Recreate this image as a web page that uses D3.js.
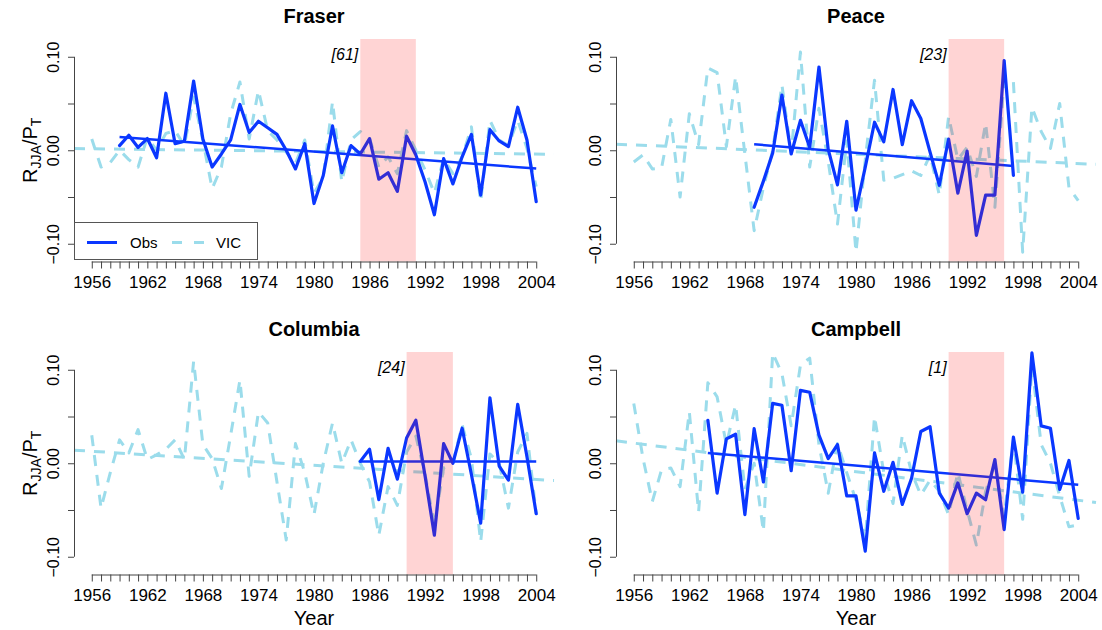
<!DOCTYPE html>
<html><head><meta charset="utf-8">
<script src="https://cdn.jsdelivr.net/npm/d3@7"></script>
<style>
body{margin:0;background:#fff}
svg{display:block}
text{font-family:"Liberation Sans",Arial,Helvetica,sans-serif;fill:#000}
</style>
</head><body>
<svg id="c" width="1102" height="630"></svg>
<script>
// ---------------- data ----------------
const xDomain = [1954.08, 2005.92];
const yDomain = [-0.119, 0.119];
const tickYears = d3.range(1956, 2005);
const labelYears = [1956, 1962, 1968, 1974, 1980, 1986, 1992, 1998, 2004];
const yTicks = [-0.10, -0.05, 0.00, 0.05, 0.10];
const yTickLabels = ["\u22120.10", "", "0.00", "", "0.10"];

const panelNames = ["Fraser", "Peace", "Columbia", "Campbell"];
const bandLabels = ["[61]", "[23]", "[24]", "[1]"];
const bandStart = [1985, 1990, 1990, 1990];
const bandEnd = [1991, 1996, 1995, 1996];
const obsStart = [1959, 1969, 1985, 1964];
const vicStart = [1956, 1956, 1956, 1956];
const seriesNames = ["Obs", "VIC"];

const fraserObs = [0.005, 0.016, 0.003, 0.0125, -0.008, 0.061, 0.007, 0.0096, 0.074, 0.012,
  -0.018, -0.004, 0.011, 0.049, 0.019, 0.031, 0.024, 0.017, 0.000, -0.020,
  0.007, -0.057, -0.027, 0.026, -0.024, 0.005, -0.004, 0.0125, -0.031, -0.024,
  -0.044, 0.015, -0.005, -0.034, -0.069, -0.009, -0.036, -0.007, 0.017, -0.048,
  0.022, 0.010, 0.004, 0.046, 0.011, -0.055];
const fraserVic = [0.012, -0.018, -0.013, 0.000, -0.010, -0.018, 0.014, 0.000, 0.018, 0.021,
  0.005, 0.057, 0.010, -0.041, -0.018, 0.039, 0.073, 0.012, 0.064, 0.021,
  0.011, -0.002, -0.014, 0.011, -0.046, -0.029, 0.052, -0.034, 0.011, 0.020,
  0.0125, -0.018, -0.007, -0.025, 0.021, 0.000, -0.021, -0.046, -0.009, -0.025,
  -0.007, 0.025, -0.055, 0.032, 0.011, 0.005, 0.032, 0.002, -0.039];

const peaceObs = [-0.061, -0.033, -0.003, 0.059, -0.004, 0.032, 0.003, 0.089, 0.001, -0.037,
  0.031, -0.064, -0.018, 0.030, 0.009, 0.065, 0.006, 0.053, 0.034, -0.002,
  -0.0375, 0.012, -0.046, -0.001, -0.091, -0.048, -0.048, 0.096, -0.027];
const peaceVic = [-0.0125, -0.005, -0.020, -0.019, 0.033, -0.050, 0.039, 0.006, 0.088, 0.083,
  0.004, 0.079, -0.004, -0.086, -0.040, 0.000, 0.070, -0.003, 0.105, -0.018,
  0.045, -0.012, -0.079, 0.010, -0.109, -0.010, 0.075, -0.032, -0.030, -0.026,
  -0.022, -0.027, -0.005, -0.048, 0.036, -0.010, 0.003, -0.028, 0.029, -0.061,
  0.077, 0.073, -0.109, 0.046, 0.020, 0.002, 0.050, -0.040, -0.054];

const columbiaObs = [0.002, 0.015, -0.039, 0.016, -0.017, 0.027, 0.046, -0.014, -0.077, 0.021,
  0.000, 0.0375, -0.012, -0.064, 0.070, -0.003, -0.018, 0.063, 0.007, -0.054];
const columbiaVic = [0.030, -0.048, -0.010, 0.025, 0.011, 0.036, 0.004, 0.009, 0.015, 0.025,
  0.004, 0.109, 0.020, 0.005, -0.027, 0.030, 0.089, -0.014, 0.055, 0.043,
  -0.020, -0.082, 0.021, -0.010, -0.055, 0.000, 0.043, 0.000, 0.025, 0.000,
  -0.020, -0.077, -0.025, -0.045, 0.012, 0.029, -0.012, -0.066, -0.005, 0.000,
  0.041, 0.005, -0.084, 0.010, 0.000, -0.048, 0.012, 0.032, -0.054];

const campbellObs = [0.046, -0.032, 0.026, 0.031, -0.055, 0.037, -0.020, 0.064, 0.062, -0.008,
  0.078, 0.076, 0.030, 0.005, 0.020, -0.035, -0.035, -0.094, 0.011, -0.030,
  0.001, -0.044, -0.016, 0.034, 0.039, -0.032, -0.048, -0.021, -0.054, -0.032,
  -0.039, 0.004, -0.071, 0.028, -0.031, 0.118, 0.040, 0.0375, -0.028, 0.003, -0.059];
const campbellVic = [0.064, 0.005, -0.041, -0.007, -0.005, -0.025, 0.055, -0.052, 0.086, 0.071,
  0.020, 0.0625, -0.028, 0.000, -0.073, 0.118, 0.096, 0.040, 0.105, 0.1125,
  0.020, -0.032, 0.021, -0.010, -0.040, -0.082, 0.050, -0.010, -0.043, 0.030,
  -0.010, -0.034, -0.018, -0.030, -0.055, -0.010, -0.050, -0.0875, -0.030, 0.000,
  -0.057, 0.025, -0.060, 0.104, 0.020, 0.000, -0.035, -0.068, -0.066];

// trend lines: Obs over its own years, VIC across the whole x range
const obsTrendYears = [[1959, 2004], [1969, 1997], [1985, 2004], [1964, 2004]];
const obsTrendValues = [[0.0143, -0.0196], [0.0064, -0.0168], [0.0018, 0.0018], [0.011, -0.023]];
const vicTrendValues = [[0.0018, -0.0043], [0.0065, -0.0150], [0.014, -0.0185], [0.024, -0.042]];

const obsSeries = [fraserObs, peaceObs, columbiaObs, campbellObs];
const vicSeries = [fraserVic, peaceVic, columbiaVic, campbellVic];

// ---------------- layout & style ----------------
const OBS_COL = "#0a37ff";
const VIC_COL = "#9bdceb";
const AXIS_COL = "#444";
const lefts = [74, 616, 74, 616];
const tops = [39, 39, 352, 352];
const PW = 480, PH = 222.5;

const svg = d3.select("#c");

function drawPanel(i) {
  const left = lefts[i], top = tops[i], bottom = top + PH;
  const x = d3.scaleLinear().domain(xDomain).range([left, left + PW]);
  const y = d3.scaleLinear().domain(yDomain).range([bottom, top]);
  const g = svg.append("g");

  const line = d3.line().x(d => x(d[0])).y(d => y(d[1]));
  const vic = vicSeries[i].map((v, k) => [vicStart[i] + k, v]);
  const obs = obsSeries[i].map((v, k) => [obsStart[i] + k, v]);

  // VIC series
  g.append("path").datum(vic).attr("d", line)
    .attr("fill", "none").attr("stroke", VIC_COL).attr("stroke-width", 3)
    .attr("stroke-dasharray", "11,9").attr("stroke-linejoin", "round");
  // VIC trend
  g.append("path").datum([[xDomain[0], vicTrendValues[i][0]], [xDomain[1], vicTrendValues[i][1]]])
    .attr("d", line).attr("fill", "none").attr("stroke", VIC_COL).attr("stroke-width", 3)
    .attr("stroke-dasharray", "11,9");
  // Obs series
  g.append("path").datum(obs).attr("d", line)
    .attr("fill", "none").attr("stroke", OBS_COL).attr("stroke-width", 3.2)
    .attr("stroke-linejoin", "round").attr("stroke-linecap", "round");
  // Obs trend
  g.append("path").datum([[obsTrendYears[i][0], obsTrendValues[i][0]], [obsTrendYears[i][1], obsTrendValues[i][1]]])
    .attr("d", line).attr("fill", "none").attr("stroke", OBS_COL).attr("stroke-width", 2.5);

  // highlighted band (drawn on top, translucent)
  g.append("rect")
    .attr("x", x(bandStart[i])).attr("width", x(bandEnd[i]) - x(bandStart[i]))
    .attr("y", top).attr("height", PH)
    .attr("fill", "rgba(255,0,0,0.17)");
  g.append("text").attr("x", x(bandStart[i]) - 2).attr("y", top + 21)
    .attr("text-anchor", "end").attr("font-style", "italic").attr("font-size", 16)
    .text(bandLabels[i]);

  // x axis
  const ax = d3.axisBottom(x).tickValues(tickYears).tickSize(7)
    .tickFormat(d => labelYears.includes(d) ? String(d) : "");
  const gx = g.append("g").attr("transform", `translate(0,${bottom})`).call(ax);
  gx.select(".domain").remove();
  gx.attr("font-family", null).attr("font-size", null);
  gx.selectAll("line").attr("stroke", AXIS_COL);
  gx.selectAll("text").attr("y", 26).attr("dy", null).attr("font-size", 17);
  g.append("line").attr("x1", x(tickYears[0])).attr("x2", x(tickYears[tickYears.length - 1]))
    .attr("y1", bottom + 0.5).attr("y2", bottom + 0.5).attr("stroke", AXIS_COL);

  // y axis
  const ay = d3.axisLeft(y).tickValues(yTicks).tickSize(6)
    .tickFormat((d, k) => yTickLabels[k]);
  const gy = g.append("g").attr("transform", `translate(${left},0)`).call(ay);
  gy.select(".domain").remove();
  gy.attr("font-family", null).attr("font-size", null);
  gy.selectAll("line").attr("stroke", AXIS_COL);
  gy.selectAll("text").attr("x", null).attr("dy", null)
    .attr("transform", "translate(-15,0) rotate(-90)")
    .attr("text-anchor", "middle").attr("font-size", 16);
  g.append("line").attr("x1", left + 0.5).attr("x2", left + 0.5)
    .attr("y1", y(yTicks[0])).attr("y2", y(yTicks[yTicks.length - 1])).attr("stroke", AXIS_COL);

  // title
  g.append("text").attr("x", left + PW / 2).attr("y", top - 16)
    .attr("text-anchor", "middle").attr("font-weight", "bold").attr("font-size", 20)
    .text(panelNames[i]);

  // y title (left column)
  if (i % 2 === 0) {
    const t = g.append("text")
      .attr("transform", `translate(37,${top + PH / 2}) rotate(-90)`)
      .attr("text-anchor", "middle").attr("font-size", 20);
    t.append("tspan").text("R");
    t.append("tspan").attr("font-size", 14).attr("dy", 4).text("JJA");
    t.append("tspan").attr("dy", -4).text("/P");
    t.append("tspan").attr("font-size", 14).attr("dy", 4).text("T");
  }
  // x title (bottom row)
  if (i >= 2) {
    g.append("text").attr("x", left + PW / 2).attr("y", 625)
      .attr("text-anchor", "middle").attr("font-size", 20).text("Year");
  }

  // legend (first panel)
  if (i === 0) {
    const lg = g.append("g");
    lg.append("rect").attr("x", left + 0.5).attr("y", 222.5).attr("width", 183).attr("height", 37)
      .attr("fill", "#fff").attr("stroke", "#555");
    lg.append("line").attr("x1", left + 13).attr("x2", left + 43).attr("y1", 242.5).attr("y2", 242.5)
      .attr("stroke", OBS_COL).attr("stroke-width", 3);
    lg.append("text").attr("x", left + 56).attr("y", 248).attr("font-size", 15).text(seriesNames[0]);
    lg.append("line").attr("x1", left + 98).attr("x2", left + 130).attr("y1", 242.5).attr("y2", 242.5)
      .attr("stroke", VIC_COL).attr("stroke-width", 3).attr("stroke-dasharray", "10,12");
    lg.append("text").attr("x", left + 142).attr("y", 248).attr("font-size", 15).text(seriesNames[1]);
  }
}

[0, 1, 2, 3].forEach(drawPanel);
</script>
</body></html>
